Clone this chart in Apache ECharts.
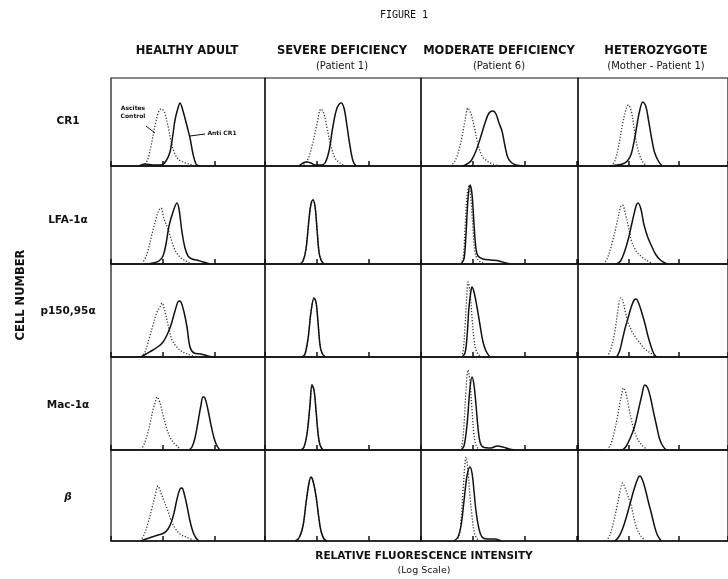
<!DOCTYPE html>
<html><head><meta charset="utf-8">
<script src="https://cdn.jsdelivr.net/npm/echarts@6/dist/echarts.min.js"></script>
<style>html,body{margin:0;padding:0;background:#fff}#c{width:728px;height:579px}</style>
</head><body><div id="c"></div>
<script>
// ---- categories ----
const columns = ['HEALTHY ADULT', 'SEVERE DEFICIENCY', 'MODERATE DEFICIENCY', 'HETEROZYGOTE'];
const columnSubs = ['', '(Patient 1)', '(Patient 6)', '(Mother - Patient 1)'];
const rowLabels = ['CR1', 'LFA-1α', 'p150,95α', 'Mac-1α', 'β'];
// x: relative fluorescence channel (log scale, ~3 decades over the panel), y: cell count
// each list: [healthy, severe, moderate, heterozygote]
const cr1Control = [
  [[28,0],[35,3],[40,20],[45,45],[50,57],[53,55],[57,40],[60,25],[63,14],[67,7],[72,4],[78,2],[85,0]],
  [[36,0],[42,5],[47,20],[52,42],[56,57],[59,52],[62,38],[66,20],[70,8],[75,3],[80,0]],
  [[29,0],[34,5],[39,20],[44,45],[47,58],[50,52],[53,40],[57,22],[61,10],[66,5],[72,2],[78,0]],
  [[34,0],[38,5],[42,20],[46,42],[50,58],[52,61],[55,55],[58,38],[61,20],[64,10],[67,4],[71,0]]
];
const cr1Antibody = [
  [[28,0],[34,2],[42,1],[50,1],[55,5],[59,14],[62,32],[64,46],[67,58],[69,63],[72,55],[76,40],[79,28],[82,12],[85,2],[88,0]],
  [[34,0],[38,3],[42,4],[46,3],[50,1],[56,1],[60,3],[64,15],[68,40],[72,58],[76,63],[79,58],[82,40],[85,20],[88,5],[91,0]],
  [[42,0],[46,2],[50,5],[55,15],[60,30],[64,43],[68,53],[72,55],[75,52],[78,43],[81,35],[84,20],[87,8],[91,3],[95,1],[102,0]],
  [[33,0],[40,1],[46,2],[51,5],[55,12],[59,30],[63,52],[67,64],[70,60],[73,45],[76,28],[79,14],[83,5],[87,0]]
];
const lfaControl = [
  [[31,0],[36,10],[41,30],[45,45],[48,54],[50,56],[53,45],[57,35],[61,22],[65,12],[70,6],[75,3],[80,0]],
  [[35,0],[38,3],[41,15],[44,45],[46,60],[48,64],[50,58],[52,35],[54,12],[56,4],[59,0]],
  [[39,0],[42,5],[44,35],[46,68],[48,78],[50,65],[52,35],[54,12],[57,4],[62,1],[66,0]],
  [[26,0],[30,5],[35,20],[40,40],[44,57],[46,59],[49,50],[52,38],[55,24],[60,13],[66,7],[72,3],[78,0]]
];
const lfaAntibody = [
  [[36,0],[42,1],[48,3],[52,8],[55,20],[58,38],[62,52],[66,61],[68,55],[71,32],[74,16],[77,8],[81,5],[86,4],[92,2],[99,0]],
  [[35,0],[38,3],[41,15],[44,45],[46,60],[48,64],[50,58],[52,35],[54,12],[56,4],[59,0]],
  [[40,0],[43,5],[45,30],[47,65],[49,79],[51,70],[53,40],[55,15],[57,8],[62,5],[70,4],[78,3],[85,1],[90,0]],
  [[40,0],[44,3],[48,12],[52,25],[56,42],[60,58],[62,61],[65,55],[68,40],[72,27],[76,18],[80,10],[85,4],[92,0]]
];
const p150Control = [
  [[30,0],[34,5],[38,18],[42,32],[46,45],[49,50],[51,54],[54,45],[58,28],[61,17],[65,11],[70,6],[76,3],[86,0]],
  [[37,0],[40,3],[43,18],[46,45],[49,59],[51,55],[53,35],[55,12],[57,4],[60,0]],
  [[40,0],[42,5],[44,30],[46,65],[47,75],[49,65],[51,40],[53,18],[55,7],[58,2],[62,0]],
  [[30,0],[34,8],[38,25],[41,45],[44,59],[46,57],[49,45],[52,34],[56,25],[60,19],[64,14],[69,8],[75,4],[81,0]]
];
const p150Antibody = [
  [[30,0],[35,3],[42,7],[48,11],[52,15],[56,22],[60,32],[64,46],[68,56],[70,55],[73,45],[76,30],[79,10],[83,4],[90,3],[97,1],[102,0]],
  [[37,0],[40,3],[43,18],[46,45],[49,59],[51,55],[53,35],[55,12],[57,4],[60,0]],
  [[41,0],[44,4],[46,20],[48,50],[50,66],[51,70],[53,65],[56,50],[59,32],[62,15],[65,6],[69,0]],
  [[40,0],[43,6],[46,18],[49,30],[52,40],[55,50],[58,57],[60,58],[63,53],[66,44],[69,34],[72,22],[75,12],[78,4],[81,0]]
];
const macControl = [
  [[30,0],[34,8],[38,22],[42,40],[45,50],[46,53],[49,47],[52,35],[55,24],[58,15],[62,8],[66,4],[70,0]],
  [[36,0],[39,3],[42,16],[45,45],[47,65],[49,60],[51,40],[53,17],[55,5],[58,0]],
  [[39,0],[41,5],[43,25],[45,60],[47,80],[49,68],[51,40],[53,15],[55,5],[58,0]],
  [[30,0],[34,6],[38,20],[42,40],[45,55],[47,62],[50,55],[53,40],[57,23],[61,12],[66,5],[72,0]]
];
const macAntibody = [
  [[78,0],[81,3],[84,12],[87,28],[90,45],[92,53],[94,52],[97,40],[100,25],[103,12],[106,4],[109,0]],
  [[36,0],[39,3],[42,16],[45,45],[47,65],[49,60],[51,40],[53,17],[55,5],[58,0]],
  [[40,0],[43,4],[46,25],[49,62],[51,73],[53,65],[55,45],[57,22],[59,8],[62,3],[70,2],[76,4],[82,3],[88,1],[94,0]],
  [[46,0],[50,4],[54,12],[58,22],[62,38],[66,55],[69,65],[72,62],[75,52],[78,38],[81,25],[84,12],[87,5],[91,0]]
];
const betaControl = [
  [[29,0],[33,6],[37,18],[41,33],[44,45],[47,55],[50,48],[53,40],[57,30],[60,21],[64,13],[69,7],[75,4],[84,0]],
  [[30,0],[34,3],[38,15],[41,38],[44,58],[46,64],[48,60],[51,45],[54,22],[56,10],[59,2],[62,0]],
  [[35,0],[38,5],[40,20],[42,50],[44,78],[45,84],[47,70],[49,45],[51,25],[53,10],[55,4],[58,0]],
  [[29,0],[33,6],[37,20],[41,38],[44,52],[46,58],[49,52],[52,44],[55,35],[58,22],[61,12],[65,5],[70,0]]
];
const betaAntibody = [
  [[30,0],[35,2],[41,4],[47,6],[53,8],[57,12],[60,18],[63,28],[66,42],[69,52],[71,53],[73,48],[76,35],[79,20],[82,9],[85,3],[88,0]],
  [[30,0],[34,3],[38,15],[41,38],[44,58],[46,64],[48,60],[51,45],[54,22],[56,10],[59,2],[62,0]],
  [[33,0],[37,4],[40,15],[43,40],[46,65],[49,74],[51,68],[53,50],[55,30],[58,12],[61,4],[66,2],[74,2],[80,0]],
  [[38,0],[42,4],[46,12],[50,24],[54,38],[58,52],[62,63],[64,65],[67,60],[70,50],[73,38],[76,27],[79,15],[82,6],[86,0]]
];
const controlRows = [cr1Control, lfaControl, p150Control, macControl, betaControl];
const antibodyRows = [cr1Antibody, lfaAntibody, p150Antibody, macAntibody, betaAntibody];

// ---- layout ----
const colX = [111, 265, 421, 578];
const colW = [154, 156, 157, 155];
const rowY = [78, 166, 264, 357, 450];
const rowH = [88, 98, 93, 93, 91];

const grids = [], xAxes = [], yAxes = [], series = [];
let gi = 0;
for (let r = 0; r < 5; r++) {
  for (let c = 0; c < 4; c++) {
    grids.push({left: colX[c], top: rowY[r], width: colW[c], height: rowH[r], show: true,
      borderColor: '#111', borderWidth: 1.2, backgroundColor: 'transparent'});
    xAxes.push({type: 'value', gridIndex: gi, min: 0, max: colW[c], interval: 52,
      axisLine: {show: true, lineStyle: {color: '#111', width: 1.6}},
      axisTick: {show: true, inside: true, length: 5, lineStyle: {color: '#111', width: 1.5}},
      axisLabel: {show: false}, splitLine: {show: false}});
    yAxes.push({type: 'value', gridIndex: gi, min: 0, max: rowH[r], show: false, splitLine: {show: false}});
    series.push({type: 'line', xAxisIndex: gi, yAxisIndex: gi, data: controlRows[r][c],
      showSymbol: false, smooth: 0.35, silent: true, clip: true,
      lineStyle: {color: '#333', width: 1.3, type: [1.2, 1.8]}});
    series.push({type: 'line', xAxisIndex: gi, yAxisIndex: gi, data: antibodyRows[r][c],
      showSymbol: false, smooth: 0.35, silent: true, clip: true,
      lineStyle: {color: '#111', width: 1.5}});
    gi++;
  }
}

const headFont = 'bold 11.5px "DejaVu Sans", sans-serif';
const subFont = '10px "DejaVu Sans", sans-serif';
const labFont = 'bold 10.5px "DejaVu Sans", sans-serif';
const headX = [187, 342, 499, 656];
const graphic = [];
graphic.push({type: 'text', x: 404, y: 15, style: {text: 'FIGURE 1', font: '10px "DejaVu Sans Mono", monospace', fill: '#111', textAlign: 'center', textVerticalAlign: 'middle'}});
columns.forEach((t, i) => {
  graphic.push({type: 'text', x: headX[i], y: 51, style: {text: t, font: headFont, fill: '#111', textAlign: 'center', textVerticalAlign: 'middle'}});
  if (columnSubs[i]) graphic.push({type: 'text', x: headX[i], y: 66, style: {text: columnSubs[i], font: subFont, fill: '#111', textAlign: 'center', textVerticalAlign: 'middle'}});
});
const labY = [121, 220, 311, 405, 497];
rowLabels.forEach((t, i) => {
  graphic.push({type: 'text', x: 68, y: labY[i], style: {text: t, font: (i === 4 ? 'italic ' : '') + labFont, fill: '#111', textAlign: 'center', textVerticalAlign: 'middle'}});
});
graphic.push({type: 'text', x: 21, y: 295, rotation: Math.PI / 2, style: {text: 'CELL NUMBER', font: 'bold 11.5px "DejaVu Sans", sans-serif', fill: '#111', textAlign: 'center', textVerticalAlign: 'middle'}});
graphic.push({type: 'text', x: 424, y: 556, style: {text: 'RELATIVE FLUORESCENCE INTENSITY', font: 'bold 10.5px "DejaVu Sans", sans-serif', fill: '#111', textAlign: 'center', textVerticalAlign: 'middle'}});
graphic.push({type: 'text', x: 424, y: 571, style: {text: '(Log Scale)', font: '9.5px "DejaVu Sans", sans-serif', fill: '#111', textAlign: 'center', textVerticalAlign: 'middle'}});
// annotations inside the first panel
graphic.push({type: 'text', x: 133, y: 112, style: {text: 'Ascites\nControl', font: 'bold 6px "DejaVu Sans", sans-serif', lineHeight: 8, fill: '#111', textAlign: 'center', textVerticalAlign: 'middle'}});
graphic.push({type: 'text', x: 222, y: 133, style: {text: 'Anti CR1', font: 'bold 6px "DejaVu Sans", sans-serif', fill: '#111', textAlign: 'center', textVerticalAlign: 'middle'}});
graphic.push({type: 'line', shape: {x1: 146, y1: 126, x2: 155, y2: 133}, style: {stroke: '#111', lineWidth: 1}});
graphic.push({type: 'line', shape: {x1: 190, y1: 136, x2: 205, y2: 134}, style: {stroke: '#111', lineWidth: 1}});

const chart = echarts.init(document.getElementById('c'), null, {renderer: 'canvas'});
chart.setOption({animation: false, backgroundColor: '#fff', grid: grids, xAxis: xAxes, yAxis: yAxes, series: series, graphic: graphic});
</script></body></html>
